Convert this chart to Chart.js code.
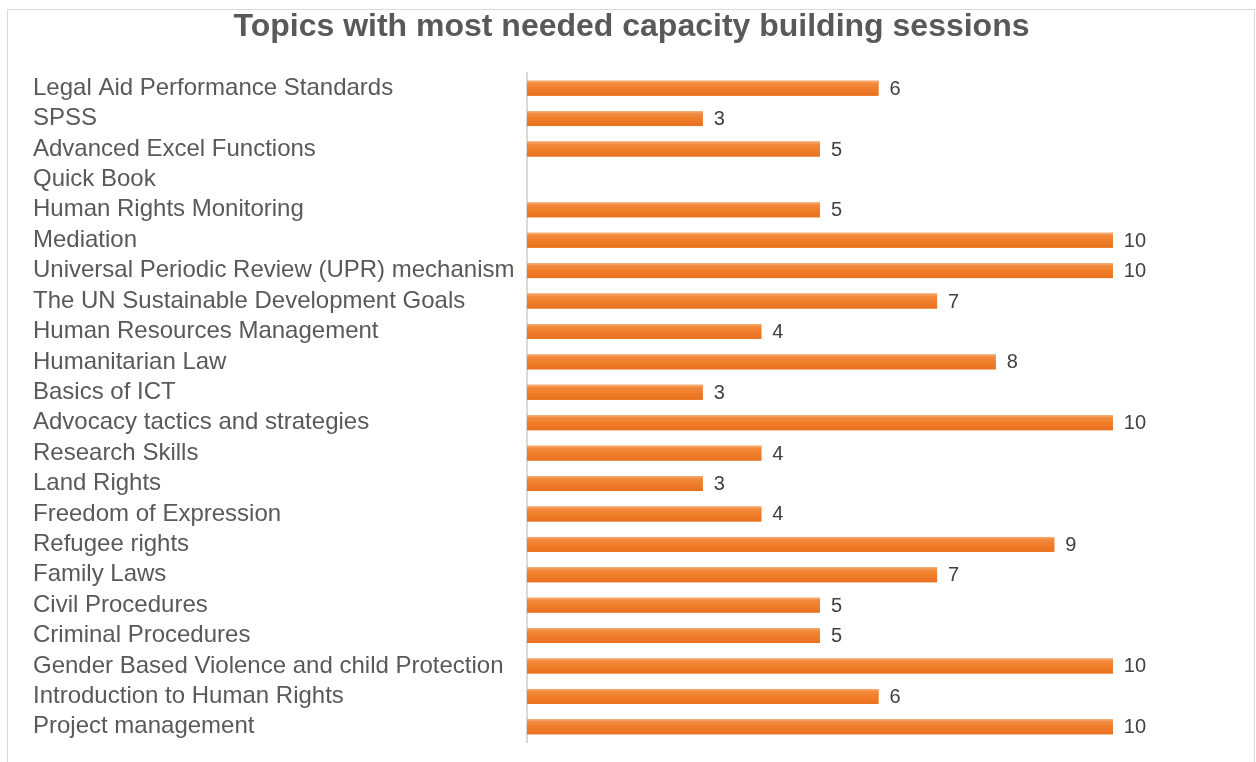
<!DOCTYPE html>
<html>
<head>
<meta charset="utf-8">
<script src="https://cdn.jsdelivr.net/npm/chart.js@4.4.1/dist/chart.umd.min.js"></script>
<style>
  html, body { margin: 0; padding: 0; background: #ffffff; }
  body { width: 1256px; height: 762px; overflow: hidden; position: relative; }
  #frame {
    position: absolute; left: 7px; top: 9px; width: 1246px; height: 760px;
    border: 1px solid #d9d9d9; background: #ffffff;
  }
  #wrap { position: absolute; left: 0; top: 0; width: 1246px; height: 752px; }
</style>
</head>
<body>
<div id="frame"><div id="wrap"><canvas id="chart"></canvas></div></div>
<script>
const titleText = 'Topics with most needed capacity building sessions';

const topics = [
  'Legal Aid Performance Standards',
  'SPSS',
  'Advanced Excel Functions',
  'Quick Book',
  'Human Rights Monitoring',
  'Mediation',
  'Universal Periodic Review (UPR) mechanism',
  'The UN Sustainable Development Goals',
  'Human Resources Management',
  'Humanitarian Law',
  'Basics of ICT',
  'Advocacy tactics and strategies',
  'Research Skills',
  'Land Rights',
  'Freedom of Expression',
  'Refugee rights',
  'Family Laws',
  'Civil Procedures',
  'Criminal Procedures',
  'Gender Based Violence and child Protection',
  'Introduction to Human Rights',
  'Project management'
];

const sessions = [6, 3, 5, null, 5, 10, 10, 7, 4, 8, 3, 10, 4, 3, 4, 9, 7, 5, 5, 10, 6, 10];

// Shades each bar with a soft top-to-bottom orange gradient and writes its value
const barFinish = {
  id: 'barFinish',
  afterDatasetDraw(chart, args) {
    const ctx = chart.ctx;
    const meta = args.meta;
    ctx.save();
    meta.data.forEach((bar, i) => {
      const v = sessions[i];
      if (v === null || v === undefined) return;
      const p = bar.getProps(['x', 'y', 'base', 'height'], true);
      const top = p.y - p.height / 2;
      const g = ctx.createLinearGradient(0, top, 0, top + p.height);
      g.addColorStop(0, '#f7b07a');
      g.addColorStop(0.18, '#f28a3c');
      g.addColorStop(0.55, '#f07d2a');
      g.addColorStop(1, '#e8701e');
      ctx.fillStyle = g;
      ctx.fillRect(p.base, top, p.x - p.base, p.height);
      ctx.fillStyle = '#404040';
      ctx.font = '20px "Liberation Sans", Arial, sans-serif';
      ctx.textAlign = 'left';
      ctx.textBaseline = 'middle';
      ctx.fillText(String(v), p.x + 11, p.y + 1);
    });
    ctx.restore();
  }
};

new Chart(document.getElementById('chart'), {
  type: 'bar',
  data: {
    labels: topics,
    datasets: [{
      data: sessions,
      backgroundColor: '#ef7b27',
      borderWidth: 0,
      barPercentage: 0.49,
      categoryPercentage: 1
    }]
  },
  options: {
    indexAxis: 'y',
    responsive: true,
    maintainAspectRatio: false,
    animation: false,
    layout: { padding: { left: 25, right: 24, top: 0, bottom: 20 } },
    plugins: {
      legend: { display: false },
      tooltip: { enabled: false },
      title: {
        display: true,
        text: titleText,
        color: '#595959',
        font: { family: '"Liberation Sans", Arial, sans-serif', size: 32, weight: 'bold', lineHeight: 1 },
        padding: { top: 1, bottom: 30 }
      }
    },
    scales: {
      x: {
        display: false,
        min: 0,
        max: 12
      },
      y: {
        afterFit(scale) { scale.width = 494; },
        grid: { display: false, drawOnChartArea: false },
        border: { display: true, color: '#d9d9d9', width: 2 },
        ticks: {
          autoSkip: false,
          crossAlign: 'far',
          color: '#595959',
          padding: 8,
          font: { family: '"Liberation Sans", Arial, sans-serif', size: 24, lineHeight: 1 }
        }
      }
    }
  },
  plugins: [barFinish]
});
</script>
</body>
</html>
